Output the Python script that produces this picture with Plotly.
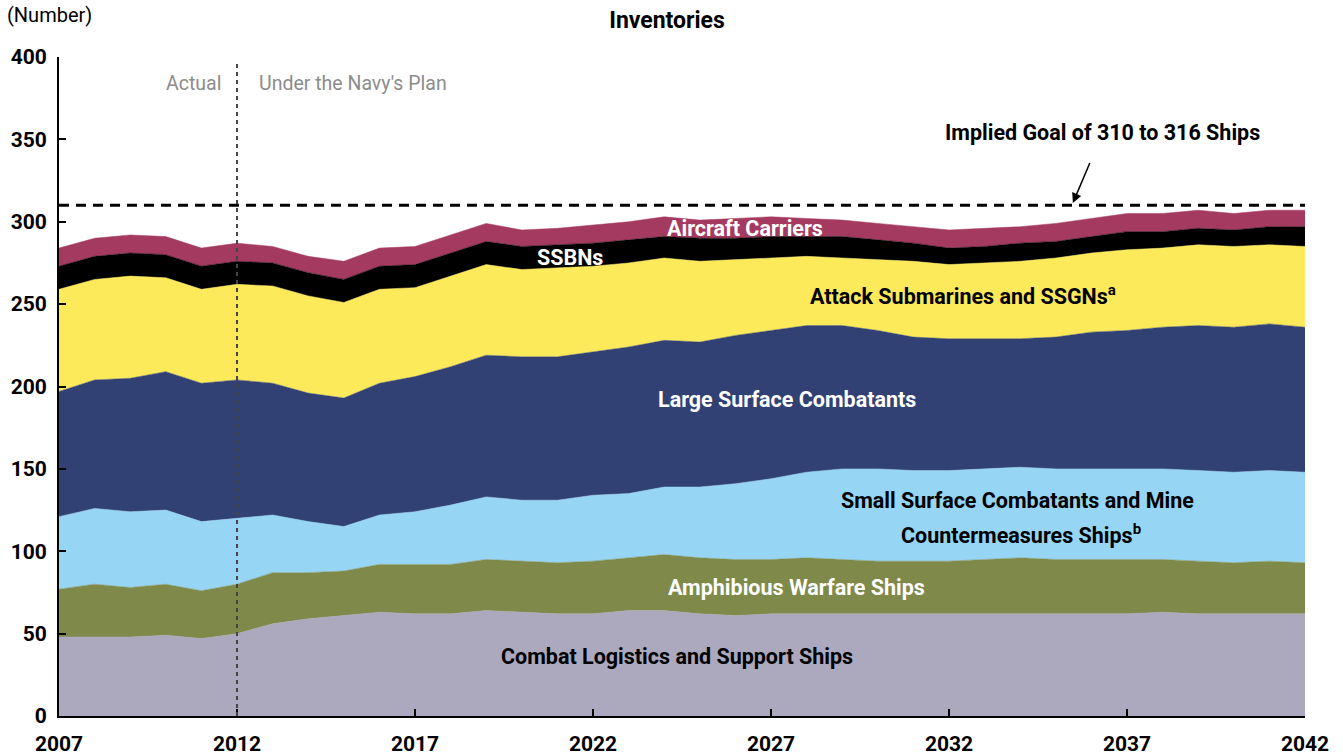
import plotly.graph_objects as go

years = list(range(2007, 2043))

combat_logistics = [48,48,48,49,47,50,56,59,61,63,62,62,64,63,62,62,64,64,62,61,62,62,62,62,62,62,62,62,62,62,62,63,62,62,62,62]
amphibious = [29,32,30,31,29,30,31,28,27,29,30,30,31,31,31,32,32,34,34,34,33,34,33,32,32,32,33,34,33,33,33,32,32,31,32,31]
small_surface = [44,46,46,45,42,40,35,31,27,30,32,36,38,37,38,40,39,41,43,46,49,52,55,56,55,55,55,55,55,55,55,55,55,55,55,55]
large_surface = [76,78,81,84,84,84,80,78,78,80,82,84,86,87,87,87,89,89,88,90,90,89,87,84,81,80,79,78,80,83,84,86,88,88,89,88]
attack_subs = [62,61,62,57,57,58,59,59,58,57,54,55,55,53,54,52,51,50,49,46,44,42,41,43,46,45,46,47,48,48,49,48,49,49,48,49]
ssbns = [14,14,14,14,14,14,14,14,14,14,14,14,14,14,14,14,14,13,14,13,13,12,13,12,11,10,10,11,10,10,11,10,10,10,11,12]
carriers = [11,11,11,11,11,11,10,10,11,11,11,11,11,10,10,11,11,12,11,12,12,11,10,10,10,11,11,10,11,11,11,11,11,10,10,10]

series_names = ["Combat Logistics and Support Ships", "Amphibious Warfare Ships",
                "Small Surface Combatants and Mine Countermeasures Ships",
                "Large Surface Combatants", "Attack Submarines and SSGNs", "SSBNs", "Aircraft Carriers"]
series_values = [combat_logistics, amphibious, small_surface, large_surface, attack_subs, ssbns, carriers]
series_colors = ["#ACA9BF", "#7E894A", "#96D5F3", "#314174", "#FDEA5A", "#000000", "#A43A60"]

x_ticks = [2007, 2012, 2017, 2022, 2027, 2032, 2037, 2042]
y_ticks = list(range(0, 401, 50))

goal = 310
actual_end = 2012

FONT = "Roboto, Arial, sans-serif"

fig = go.Figure()
for name, vals, col in zip(series_names, series_values, series_colors):
    fig.add_trace(go.Scatter(
        x=years, y=vals, name=name, stackgroup="one", mode="lines",
        line=dict(width=0.5, color=col), fillcolor=col, hoverinfo="x+y+name"))

# goal line
fig.add_shape(type="line", xref="x", yref="y", x0=years[0], x1=years[-1], y0=goal, y1=goal,
              line=dict(color="black", width=3, dash="10px,7px"))
# actual / plan divider
fig.add_shape(type="line", xref="x", yref="y", x0=actual_end, x1=actual_end, y0=0, y1=397,
              line=dict(color="#444444", width=2, dash="4px,4px"))

def lab(text, x, y, color, size=21.5, xanchor="center", bold=True, align="center"):
    fig.add_annotation(text=text, x=x, y=y, xref="x", yref="y",
                       showarrow=False, xanchor=xanchor, yanchor="middle", align=align,
                       font=dict(family=FONT, size=size, color=color,
                                 weight="bold" if bold else "normal"))

lab("Aircraft Carriers", 2026.27, 296.2, "white")
lab("SSBNs", 2021.35, 278.6, "white")
lab("Attack Submarines and SSGNs<sup>a</sup>", 2032.39, 255.5, "black")
lab("Large Surface Combatants", 2027.45, 192.4, "white")
lab("Small Surface Combatants and Mine", 2033.91, 131.1, "black")
lab("Countermeasures Ships<sup>b</sup>", 2034.02, 110.3, "black")
lab("Amphibious Warfare Ships", 2027.73, 78.3, "white")
lab("Combat Logistics and Support Ships", 2024.36, 36.4, "black")
lab("Implied Goal of 310 to 316 Ships", 2036.30, 353.9, "black")
lab("Actual", 2011.62, 384.2, "#8c8c8c", size=19.5, xanchor="right", bold=False)
lab("Under the Navy's Plan", 2012.56, 384.2, "#8c8c8c", size=19.5, xanchor="left", bold=False)

fig.add_annotation(x=2035.48, y=311.4, ax=2036.04, ay=339.9, xref="x", yref="y", axref="x", ayref="y",
                   text=" ", showarrow=True, arrowhead=2, arrowsize=1.3, arrowwidth=1.5, arrowcolor="black")

fig.add_annotation(text="(Number)", xref="paper", yref="paper", x=-0.0433, y=1.0637,
                   xanchor="left", yanchor="middle", showarrow=False,
                   font=dict(family=FONT, size=20, color="black"))

W, H = 1343, 756
fig.update_layout(
    width=W, height=H,
    margin=dict(l=59, r=38, t=57, b=40, autoexpand=False),
    paper_bgcolor="white", plot_bgcolor="white",
    showlegend=False,
    title=dict(text="Inventories", x=667 / W, y=1 - 20 / H, xanchor="center", yanchor="middle",
               font=dict(family=FONT, size=23, color="black", weight="bold")),
    font=dict(family=FONT, color="black"),
    xaxis=dict(range=[2007, 2042], tickvals=x_ticks, automargin=False,
               ticks="inside", ticklen=7, tickwidth=1.5, tickcolor="black",
               showline=True, linecolor="black", linewidth=2, showgrid=False, zeroline=False,
               tickfont=dict(family=FONT, size=21, color="black", weight="bold"), ticklabelstandoff=8),
    yaxis=dict(range=[0, 400], tickvals=y_ticks, automargin=False,
               ticks="inside", ticklen=7, tickwidth=1.5, tickcolor="black",
               showline=True, linecolor="black", linewidth=2, showgrid=False, zeroline=False,
               tickfont=dict(family=FONT, size=21, color="black", weight="bold"), ticklabelstandoff=6),
)

fig.write_html("out.html", config={"displayModeBar": False},
               post_script="document.body.style.margin='0';document.body.style.overflow='hidden';")
